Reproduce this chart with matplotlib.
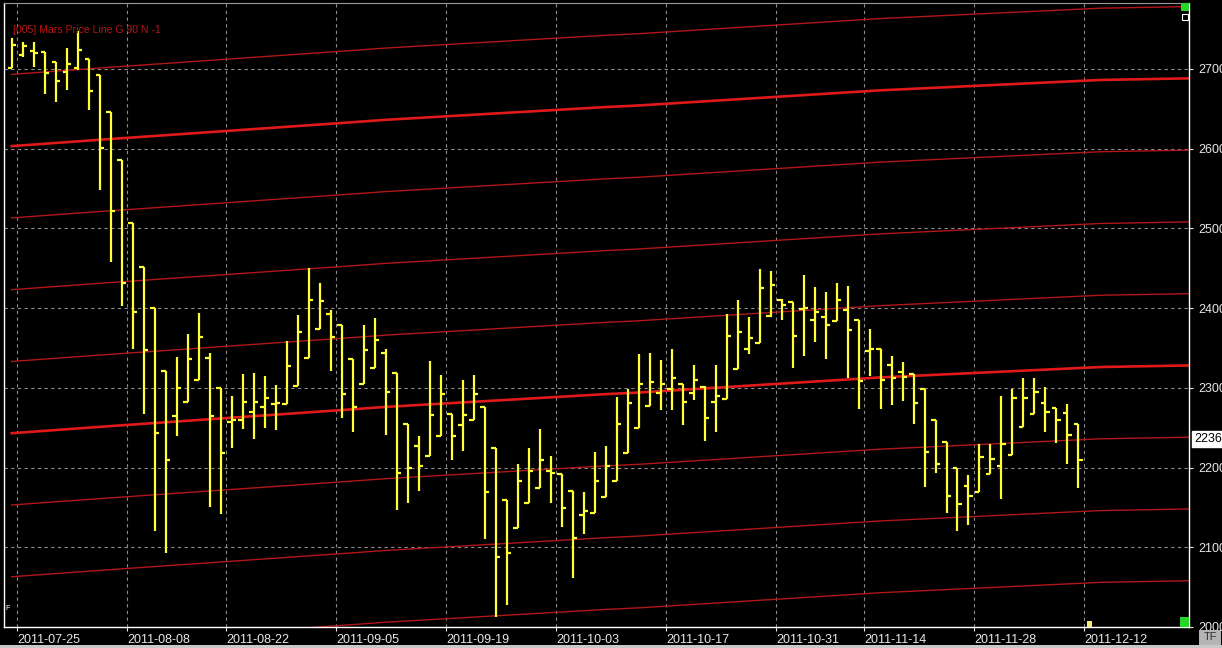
import matplotlib
matplotlib.use("Agg")
import matplotlib.pyplot as plt
import matplotlib.transforms as mtransforms
from matplotlib.patches import Rectangle
import numpy as np

plt.rcParams['font.family'] = ['Liberation Sans', 'DejaVu Sans']

# daily bars, one per trading day (index 0 = 2011-07-22)
opens = [2701, 2717, 2722, 2721, 2709, 2696, 2701, 2712, 2692, 2646,
         2585, 2507, 2452, 2400, 2321, 2265, 2282, 2310, 2337, 2300,
         2257, 2259, 2270, 2276, 2280, 2280, 2302, 2337, 2374, 2392,
         2379, 2336, 2305, 2325, 2343, 2319, 2255, 2227, 2214, 2239,
         2267, 2253, 2260, 2276, 2224, 2159, 2124, 2155, 2174, 2195,
         2192, 2171, 2140, 2143, 2163, 2183, 2218, 2249, 2277, 2293,
         2298, 2305, 2294, 2301, 2282, 2286, 2324, 2348, 2356, 2390,
         2410, 2407, 2399, 2385, 2389, 2384, 2397, 2385, 2346, 2349,
         2328, 2320, 2317, 2299, 2259, 2232, 2199, 2177, 2169, 2192,
         2202, 2216, 2251, 2267, 2281, 2275, 2268, 2254]
highs = [2738, 2734, 2733, 2721, 2709, 2726, 2747, 2712, 2692, 2646,
         2585, 2507, 2452, 2400, 2321, 2339, 2367, 2394, 2344, 2300,
         2290, 2317, 2318, 2315, 2303, 2359, 2391, 2450, 2432, 2398,
         2379, 2336, 2379, 2388, 2349, 2319, 2255, 2239, 2333, 2316,
         2267, 2310, 2316, 2276, 2224, 2159, 2205, 2224, 2248, 2215,
         2192, 2171, 2169, 2220, 2227, 2289, 2299, 2342, 2344, 2335,
         2349, 2305, 2328, 2302, 2329, 2393, 2410, 2389, 2449, 2446,
         2411, 2408, 2441, 2426, 2420, 2432, 2428, 2385, 2374, 2349,
         2340, 2332, 2317, 2299, 2259, 2232, 2199, 2190, 2230, 2229,
         2290, 2298, 2312, 2312, 2301, 2275, 2280, 2254]
lows = [2701, 2715, 2702, 2669, 2658, 2673, 2699, 2648, 2548, 2458,
        2402, 2349, 2267, 2120, 2093, 2239, 2282, 2310, 2151, 2142,
        2224, 2248, 2236, 2250, 2247, 2280, 2302, 2337, 2374, 2321,
        2262, 2245, 2305, 2325, 2241, 2147, 2155, 2171, 2214, 2239,
        2210, 2221, 2260, 2110, 2013, 2027, 2124, 2155, 2174, 2155,
        2125, 2061, 2116, 2143, 2163, 2183, 2218, 2249, 2277, 2272,
        2272, 2253, 2285, 2233, 2245, 2286, 2324, 2342, 2356, 2389,
        2385, 2325, 2340, 2358, 2336, 2384, 2312, 2274, 2315, 2273,
        2279, 2284, 2255, 2176, 2193, 2143, 2120, 2128, 2169, 2192,
        2161, 2216, 2251, 2267, 2245, 2231, 2205, 2174]
closes = [2730, 2728, 2720, 2695, 2685, 2706, 2724, 2672, 2601, 2522,
          2431, 2395, 2347, 2243, 2209, 2300, 2336, 2364, 2265, 2218,
          2259, 2282, 2282, 2287, 2281, 2327, 2370, 2410, 2409, 2364,
          2292, 2276, 2347, 2360, 2295, 2193, 2199, 2202, 2266, 2292,
          2239, 2266, 2292, 2169, 2088, 2093, 2183, 2196, 2209, 2193,
          2149, 2112, 2146, 2183, 2202, 2254, 2281, 2305, 2307, 2305,
          2312, 2282, 2310, 2262, 2290, 2365, 2370, 2363, 2425, 2429,
          2404, 2365, 2400, 2395, 2379, 2410, 2372, 2309, 2349, 2310,
          2312, 2314, 2281, 2220, 2205, 2164, 2154, 2164, 2213, 2211,
          2230, 2287, 2287, 2295, 2269, 2259, 2241, 2210]

# bar index of the first bar of each labelled date
date_idx = [1, 11, 20, 30, 40, 50, 60, 70, 78, 88, 98]
date_labels = ['2011-07-25', '2011-08-08', '2011-08-22', '2011-09-05',
               '2011-09-19', '2011-10-03', '2011-10-17', '2011-10-31',
               '2011-11-14', '2011-11-28', '2011-12-12']

# Mars price line (base level), read at a few bar positions
mars_idx = [0, 8, 31, 34, 54, 57, 79, 99, 107]
mars_base = [2243, 2251, 2273, 2276, 2292, 2294, 2313, 2326, 2328]
mars_step = 90
mars_levels = [-3, -2, -1, 0, 1, 2, 3, 4, 5]
thick_levels = [0, 4]

price_ticks = [2000, 2100, 2200, 2300, 2400, 2500, 2600, 2700]
last_price = 2236

YELLOW = '#ffff33'

fig = plt.figure(figsize=(12.22, 6.48), dpi=100, facecolor='black')
ax = fig.add_axes([4 / 1222, 21 / 648, 1185 / 1222, 624 / 648])
ax.set_facecolor('black')

# price lines
for k in mars_levels:
    yv = np.array(mars_base) + k * mars_step
    if k in thick_levels:
        ax.plot(mars_idx, yv, color='#e01a1a', lw=1.9, zorder=2)
    else:
        ax.plot(mars_idx, yv, color='#b0161a', lw=1.0, zorder=2)

# OHLC bars
x = np.arange(len(opens))
ax.vlines(x, lows, highs, color=YELLOW, lw=1.6, zorder=3)
ax.hlines(opens, x - 0.38, x, color=YELLOW, lw=1.6, zorder=3)
ax.hlines(closes, x, x + 0.38, color=YELLOW, lw=1.6, zorder=3)

ax.set_xlim(-0.7, 107.05)
ax.set_ylim(2000, 2782.5)

ax.set_xticks(np.array(date_idx) - 0.5)
ax.set_xticklabels(date_labels, ha='left')
ax.yaxis.tick_right()
ax.set_yticks(price_ticks)
ax.grid(True, color='#8c8c8c', ls=(0, (3, 3)), lw=0.8, zorder=1)
ax.tick_params(axis='x', colors='#e8e8e8', labelsize=9, length=3, pad=2, width=0.8)
ax.tick_params(axis='y', colors='#e8e8e8', labelsize=9, length=3, pad=4, width=0.8)

for side in ['left', 'bottom', 'right']:
    ax.spines[side].set_color('white')
    ax.spines[side].set_linewidth(1.0)
ax.spines['top'].set_color('#9a9a9a')

ax.text(0.0076, 0.957, '[005] Mars Price Line G 90 N -1', transform=ax.transAxes,
        color='#b81414', fontsize=7.6, va='center', ha='left')
ax.text(0.001, 0.03, 'F', transform=ax.transAxes, color='white', fontsize=5,
        va='center', ha='left')

# last price marker on the axis
trans = mtransforms.blended_transform_factory(ax.transAxes, ax.transData)
ax.text(1.0045, last_price, str(last_price), transform=trans, color='black',
        fontsize=9, va='center', ha='left', clip_on=False,
        bbox=dict(facecolor='white', edgecolor='white', pad=1.5))

# chart widgets
ax.add_patch(Rectangle((0.9935, 0.987), 0.0065, 0.013, transform=ax.transAxes,
                       facecolor='#27d627', edgecolor='none', zorder=5))
ax.add_patch(Rectangle((0.9945, 0.972), 0.0045, 0.011, transform=ax.transAxes,
                       facecolor='black', edgecolor='white', lw=0.8, zorder=5))
ax.add_patch(Rectangle((0.9925, 0.0), 0.0075, 0.016, transform=ax.transAxes,
                       facecolor='#27d627', edgecolor='none', zorder=5))
ax.add_patch(Rectangle((len(opens) - 0.25, 2000), 0.5, 7, facecolor='#f0f070',
                       edgecolor='none', zorder=5, clip_on=False))

fig.patches.append(Rectangle((0, 0), 1, 3 / 648, transform=fig.transFigure,
                             facecolor='#c8c8c8', edgecolor='none'))
fig.patches.append(Rectangle((1199 / 1222, 3 / 648), 22 / 1222, 15 / 648,
                             transform=fig.transFigure, facecolor='#b4b4b4',
                             edgecolor='none'))
fig.text(1210 / 1222, 10.5 / 648, 'TF', color='#303030', fontsize=8,
         ha='center', va='center')

fig.savefig('out.png', dpi=100, facecolor='black')
